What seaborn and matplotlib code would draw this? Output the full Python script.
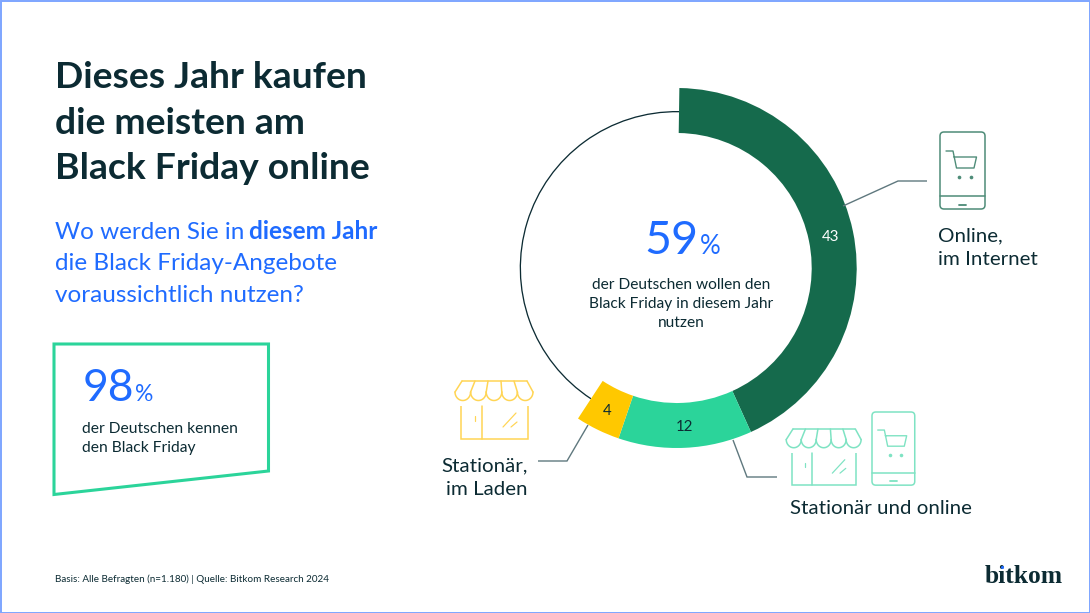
import numpy as np
import matplotlib
matplotlib.use("Agg")
import matplotlib.pyplot as plt
from matplotlib.patches import Polygon, FancyBboxPatch, Rectangle
import seaborn as sns

# ---- data ----
segment_labels = ["Online, im Internet", "Stationär und online", "Stationär, im Laden"]
segment_values = [43, 12, 4]
rest_value = [41]
total_headline = "59"
known_headline = "98"
title_lines = ["Dieses Jahr kaufen", "die meisten am", "Black Friday online"]
caption_lines = ["der Deutschen wollen den", "Black Friday in diesem Jahr", "nutzen"]
known_lines = ["der Deutschen kennen", "den Black Friday"]
source = "Basis: Alle Befragten (n=1.180) | Quelle: Bitkom Research 2024"

# ---- style ----
sns.set_theme(style="white")
FONT = "Lato"
plt.rcParams["font.family"] = [FONT, "DejaVu Sans"]
palette = sns.color_palette(["#156A4C", "#2BD49A", "#FFC800"])
INK = "#0C2B33"
BLUE = "#1F6BFF"
LEADER = "#5F787E"
W, H = 1090, 613


def px(size):
    return size * 72 / 100


fig = plt.figure(figsize=(W / 100, H / 100), dpi=100, facecolor="white")

# ---- donut: its own axes, placed in pixels ----
cx, cy, R = 676.7, 268.0, 180.0
ax = fig.add_axes([(cx - 1.25 * R) / W, 1 - (cy + 1.25 * R) / H, 2.5 * R / W, 2.5 * R / H])
start = 90 - 0.85
share = sum(segment_values)
ax.pie([share] + rest_value, radius=157 / R, startangle=start, counterclock=False,
       colors=["none", INK], wedgeprops=dict(width=1.3 / R, linewidth=0))
wedges, _ = ax.pie(segment_values + rest_value, radius=1.0, startangle=start, counterclock=False,
                   colors=list(palette) + ["none"], wedgeprops=dict(width=45 / R, linewidth=0))
ax.set_xlim(-1.25, 1.25)
ax.set_ylim(-1.25, 1.25)
ax.patch.set_alpha(0)

# value labels sit at the ring's mid radius
label_colors = ["white", INK, INK]
for w, v, c in zip(wedges, segment_values, label_colors):
    a = np.deg2rad((w.theta1 + w.theta2) / 2)
    ax.text(0.875 * np.cos(a), 0.875 * np.sin(a), str(v), ha="center", va="center_baseline",
            fontsize=px(15), color=c)

# ---- overlay in pixel coordinates ----
ov = fig.add_axes([0, 0, 1, 1])
ov.set_xlim(0, W)
ov.set_ylim(H, 0)
ov.axis("off")
ov.patch.set_alpha(0)


def text(x, y, s, size, color=INK, weight="normal", ha="left", family=None):
    return ov.text(x, y, s, fontsize=px(size), color=color, fontweight=weight, ha=ha,
                   va="baseline", family=family or [FONT, "DejaVu Sans"])


def line(xs, ys, color, lw=1.0):
    ov.plot(xs, ys, color=color, lw=lw, solid_capstyle="butt", solid_joinstyle="miter")


def store(x0, y0, s, color, lw=1.1):
    """x0, y0 = top-left of the shop box; s = scale"""
    def X(v): return x0 + v * s
    def Y(v): return y0 + v * s
    line([X(0), X(0), X(67), X(67)], [Y(0), Y(33), Y(33), Y(0)], color, lw)
    ov.plot([X(21)] * 2, [Y(0), Y(33)], color=color, lw=lw)
    ov.plot([X(14)] * 2, [Y(10), Y(15)], color=color, lw=lw * 0.8)
    ov.plot([X(42), X(55)], [Y(21), Y(7)], color=color, lw=lw * 0.8)
    ov.plot([X(50), X(56)], [Y(21), Y(16)], color=color, lw=lw * 0.8)
    # awning
    ov.plot([X(1), X(66)], [Y(-25)] * 2, color=color, lw=lw)
    edges_top = np.linspace(1, 66, 6)
    edges_bot = np.linspace(-6, 72, 6)
    for i in range(5):
        xl, xr = edges_bot[i], edges_bot[i + 1]
        t = np.linspace(np.pi, 0, 30)
        xc, rx = (xl + xr) / 2, (xr - xl) / 2
        ov.plot(X(xc + rx * np.cos(t)), Y(-14 + 8.5 * np.sin(t)), color=color, lw=lw)
    for et, eb in zip(edges_top, edges_bot):
        ov.plot([X(et), X(eb)], [Y(-25), Y(-14)], color=color, lw=lw)


def phone(x0, y0, s, color, lw=1.1):
    """x0, y0 = top-left of the phone; s = scale"""
    def X(v): return x0 + v * s
    def Y(v): return y0 + v * s
    ov.add_patch(FancyBboxPatch((X(3), Y(3)), 39 * s, 71 * s, boxstyle=f"round,pad={3*s},rounding_size={4*s}",
                                fc="none", ec=color, lw=lw))
    ov.plot([X(0), X(45)], [Y(64)] * 2, color=color, lw=lw)
    ov.plot([X(19), X(26)], [Y(73)] * 2, color=color, lw=lw * 1.2)
    ov.plot([X(6), X(13), X(16.5), X(34), X(36.5), X(14)],
            [Y(19), Y(19), Y(36), Y(36), Y(25), Y(25)], color=color, lw=lw * 0.9)
    ov.scatter([X(18.5), X(31)], [Y(45)] * 2, s=7 * s, color=color, linewidths=0)


# icons
phone(940, 132, 1.0, "#4E8C78")
store(461, 406, 1.0, "#FFD555")
store(792, 453, 0.96, "#7FE3C3")
phone(872, 412, 0.95, "#7FE3C3")

# leaders
line([843, 898, 927], [206, 181, 181], LEADER)
line([588, 567, 538], [425, 461, 461], LEADER)
line([733, 747, 777], [440, 477, 477], LEADER)

# title
for y, s in zip([88, 134, 179], title_lines):
    text(55, y, s, 37.2, weight="bold")

# question
text(55, 239, "Wo werden Sie in", 24.3, BLUE)
text(249, 239, "diesem Jahr", 24.3, BLUE, weight="bold")
text(55, 270, "die Black Friday-Angebote", 24.3, BLUE)
text(55, 302, "voraussichtlich nutzen?", 24.3, BLUE)

# box
ov.add_patch(Polygon([(54, 344), (268.5, 344), (268.5, 471), (54, 494.5)], closed=True, fc="none",
                     ec=palette[1], lw=2.2, joinstyle="miter"))
text(83, 401, known_headline, 44.5, BLUE)
text(135.5, 401, "%", 23, BLUE)
for y, s in zip([433, 452], known_lines):
    text(82, y, s, 15.6)

# centre text
text(644, 254, total_headline, 46.5, BLUE)
text(699.5, 254, "%", 26, BLUE)
for y, s in zip([289, 308, 327], caption_lines):
    text(681, y, s, 15.5, ha="center")

# category labels
text(938, 241, "Online,", 20.5)
text(938, 265, "im Internet", 20.5)
text(528, 471, "Stationär,", 20.5, ha="right")
text(528, 495, "im Laden", 20.5, ha="right")
text(790, 514, "Stationär und online", 20.5)

# footer
text(55, 582, source, 9.85)
text(985, 583, "bitkom", 25.5, weight="bold", family=["Liberation Serif"])
ov.scatter([1002], [566.5], s=5, color=BLUE, linewidths=0, zorder=5)

# frame
ov.add_patch(Rectangle((0.5, 0.5), W - 1, H - 1, fc="none", ec="#7DA5FF", lw=1.4))

fig.savefig("out.png", dpi=100, facecolor="white")
